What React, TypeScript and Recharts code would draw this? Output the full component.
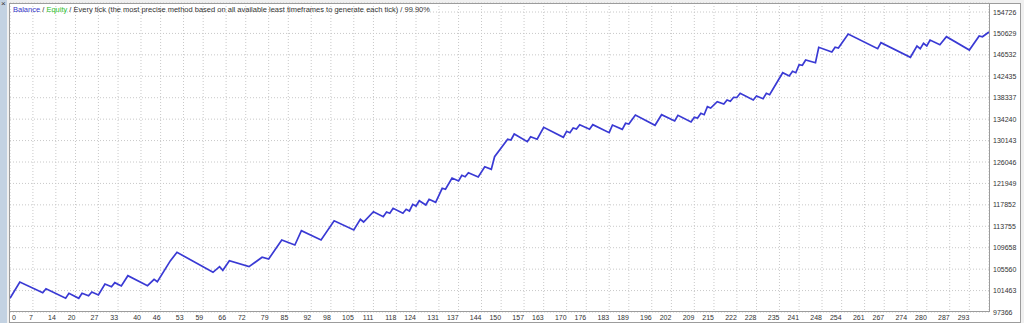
import React from 'react'
import { LineChart, Line, XAxis, YAxis, CartesianGrid } from 'recharts'

// trade number of each turning point of the balance curve
const trades = [
  0, 3, 10, 11, 17, 18, 21, 22, 24, 25,
  27, 29, 31, 32, 34, 36, 42, 44, 45, 49,
  51, 62, 64, 65, 67, 73, 77, 79, 83, 87,
  89, 95, 99, 105, 107, 108, 111, 114, 115, 116,
  117, 120, 121, 122, 123, 124, 125, 127, 128, 130,
  132, 133, 135, 137, 138, 139, 140, 143, 145, 147,
  148, 152, 153, 154, 158, 159, 161, 163, 169, 170,
  171, 172, 173, 174, 177, 178, 183, 184, 187, 188,
  189, 191, 197, 199, 203, 204, 208, 209, 210, 211,
  212, 213, 214, 216, 218, 219, 220, 221, 222, 223,
  227, 228, 230, 231, 232, 236, 238, 239, 240, 241,
  242, 243, 246, 247, 251, 252, 253, 256, 265, 266,
  275, 277, 278, 279, 280, 281, 284, 286, 293, 296,
  297, 299,
]

const balance = [
  100000, 103100, 101060, 101820, 99990, 100940, 99990, 100940, 100480, 101190,
  100620, 102720, 102200, 102970, 102340, 104310, 102400, 103620, 103160, 107180,
  108780, 104960, 106030, 105340, 107180, 106030, 107830, 107500, 111130, 110180,
  112910, 111130, 114820, 113040, 115090, 114570, 116540, 115590, 116490, 116240,
  117190, 116240, 117000, 116680, 117960, 117630, 118650, 117820, 118910, 118340,
  121020, 120830, 122990, 122410, 123500, 123240, 124000, 123180, 125150, 124650,
  127060, 130390, 130250, 131400, 129930, 130880, 130390, 132680, 130770, 131920,
  131650, 132550, 132360, 133180, 132300, 133180, 131650, 133120, 132300, 133450,
  133310, 135030, 133060, 135090, 133890, 134980, 133690, 134590, 134460, 135360,
  135090, 136620, 136370, 137580, 137140, 137900, 137650, 138420, 138380, 139180,
  137900, 138670, 138150, 139180, 138910, 143120, 142490, 143390, 143120, 144650,
  144540, 145550, 145030, 147980, 147080, 147980, 147840, 150520, 147710, 148860,
  146070, 148230, 147710, 148740, 148230, 149370, 148470, 150000, 147460, 150140,
  150000, 150900,
]

const xTicks = [
  0, 7, 14, 20, 27, 33, 40, 46, 53, 59, 66, 72, 79, 85, 92, 98,
  105, 111, 118, 124, 131, 137, 144, 150, 157, 163, 170, 176, 183, 189, 196,
  202, 209, 215, 222, 228, 235, 241, 248, 254, 261, 267, 274, 280, 287, 293,
]

const yTicks = [
  97366, 101463, 105560, 109658, 113755, 117852, 121949, 126046,
  130143, 134240, 138337, 142435, 146532, 150629, 154726,
]

const data = trades.map((t, i) => ({ trade: t, balance: balance[i] }))

const FONT = '"Liberation Sans", Arial, sans-serif'
const FRAME = '#9c9c9c'

function XTick(props: any) {
  const { x, payload, index } = props
  const first = index === 0
  return (
    <text
      x={first ? x + 2 : x}
      y={320}
      textAnchor={first ? 'start' : 'end'}
      fontSize={7}
      fontFamily={FONT}
      fill="#333"
    >
      {payload.value}
    </text>
  )
}

function YTick(props: any) {
  const { y, payload } = props
  return (
    <text x={993} y={y + 2.5} textAnchor="start" fontSize={7} fontFamily={FONT} fill="#333">
      {payload.value}
    </text>
  )
}

const line = (l: number, t: number, w: number, h: number) => (
  <div style={{ position: 'absolute', left: l, top: t, width: w, height: h, background: FRAME }} />
)

export default function App() {
  return (
    <div
      style={{
        position: 'fixed',
        left: 0,
        top: 0,
        width: 1024,
        height: 323,
        background: '#f0f0f0',
        overflow: 'hidden',
        fontFamily: FONT,
      }}
    >
      <div style={{ position: 'absolute', left: 0, top: 0, width: 7, height: 323, background: '#c3d2e2' }} />
      <div style={{ position: 'absolute', left: 1, top: -1, fontSize: 8, color: '#333' }}>×</div>
      <div style={{ position: 'absolute', left: 10, top: 3, width: 1010, height: 319, background: '#fff' }} />
      <div style={{ position: 'absolute', left: 0, top: 0 }}>
        <LineChart width={1024} height={323} data={data} margin={{ top: 3, right: 0, bottom: 0, left: 10 }}>
          <CartesianGrid stroke="#c8c8c8" strokeDasharray="1 2" />
          <XAxis
            type="number"
            dataKey="trade"
            domain={[0, 299]}
            ticks={xTicks}
            interval={0}
            height={11}
            axisLine={false}
            tickLine={false}
            tick={<XTick />}
          />
          <YAxis
            orientation="right"
            width={35}
            domain={[97366, 156447]}
            ticks={yTicks}
            interval={0}
            allowDataOverflow
            axisLine={false}
            tickLine={false}
            tick={<YTick />}
          />
          <Line
            type="linear"
            dataKey="balance"
            stroke="#3a3ad4"
            strokeWidth={1.7}
            dot={false}
            isAnimationActive={false}
          />
        </LineChart>
      </div>
      {line(9, 3, 1, 319)}
      {line(9, 3, 1012, 1)}
      {line(989, 3, 1, 309)}
      {line(9, 311, 981, 1)}
      {line(1020, 3, 1, 320)}
      {line(9, 322, 1012, 1)}
      <div style={{ position: 'absolute', left: 13, top: 5, fontSize: 7.5, whiteSpace: 'nowrap', color: '#333' }}>
        <span style={{ color: '#3535c8' }}>Balance</span> / <span style={{ color: '#2cbf2c' }}>Equity</span> / Every
        tick (the most precise method based on all available least timeframes to generate each tick) / 99.90%
      </div>
    </div>
  )
}
